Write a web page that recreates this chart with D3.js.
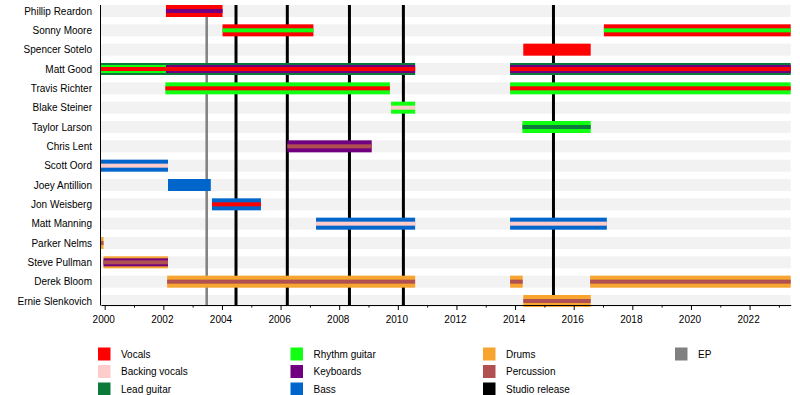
<!DOCTYPE html>
<html>
<head>
<meta charset="utf-8">
<script src="https://cdnjs.cloudflare.com/ajax/libs/d3/7.8.5/d3.min.js"></script>
<style>
  body { margin: 0; background: #fff; }
  svg { font-family: "Liberation Sans", Arial, sans-serif; }
</style>
</head>
<body>
<svg width="800" height="395"></svg>
<script>
// members, top to bottom
var members = ["Phillip Reardon", "Sonny Moore", "Spencer Sotelo", "Matt Good", "Travis Richter",
    "Blake Steiner", "Taylor Larson", "Chris Lent", "Scott Oord", "Joey Antillion", "Jon Weisberg",
    "Matt Manning", "Parker Nelms", "Steve Pullman", "Derek Bloom", "Ernie Slenkovich"]

var roles = ["Vocals", "Backing vocals", "Lead guitar", "Rhythm guitar", "Keyboards", "Bass",
    "Drums", "Percussion", "Studio release", "EP"]
var roleColors = ["#ff0000", "#ffcccc", "#0b7a3b", "#11ff11", "#700080", "#0066cc",
    "#f7a52e", "#b05050", "#000000", "#808080"]

var start = 1999.874, end = 2023.403

// main (wide) bars: [member, from, till, role]
var outerBars = [
    ["Phillip Reardon", 2002.09, 2004.02, "Vocals"],
    ["Sonny Moore", 2004.02, 2007.12, "Vocals"],
    ["Sonny Moore", 2017.03, end, "Vocals"],
    ["Spencer Sotelo", 2014.28, 2016.58, "Vocals"],
    ["Matt Good", start, 2010.59, "Lead guitar"],
    ["Matt Good", 2013.83, end, "Lead guitar"],
    ["Travis Richter", 2002.07, 2009.73, "Rhythm guitar"],
    ["Travis Richter", 2013.83, end, "Rhythm guitar"],
    ["Blake Steiner", 2009.77, 2010.59, "Rhythm guitar"],
    ["Taylor Larson", 2014.25, 2016.58, "Rhythm guitar"],
    ["Chris Lent", 2006.23, 2009.11, "Keyboards"],
    ["Scott Oord", start, 2002.16, "Bass"],
    ["Joey Antillion", 2002.16, 2003.62, "Bass"],
    ["Jon Weisberg", 2003.66, 2005.33, "Bass"],
    ["Matt Manning", 2007.21, 2010.59, "Bass"],
    ["Matt Manning", 2013.83, 2017.13, "Bass"],
    ["Parker Nelms", start, 1999.96, "Drums"],
    ["Steve Pullman", 1999.96, 2002.16, "Drums"],
    ["Derek Bloom", 2002.13, 2010.59, "Drums"],
    ["Derek Bloom", 2013.83, 2014.26, "Drums"],
    ["Derek Bloom", 2016.56, end, "Drums"],
    ["Ernie Slenkovich", 2014.28, 2016.58, "Drums"]
]

// second layer
var middleBars = [
    ["Matt Good", start, 2002.09, "Rhythm guitar"],
    ["Matt Good", 2002.09, 2010.59, "Keyboards"],
    ["Matt Good", 2013.83, end, "Keyboards"],
    ["Steve Pullman", 1999.96, 2002.16, "Keyboards"]
]

// thin stripe in the middle
var innerBars = [
    ["Phillip Reardon", 2002.09, 2004.02, "Keyboards"],
    ["Sonny Moore", 2004.02, 2007.12, "Rhythm guitar"],
    ["Sonny Moore", 2017.03, end, "Rhythm guitar"],
    ["Matt Good", start, 2002.09, "Vocals"],
    ["Matt Good", 2002.09, 2010.59, "Vocals"],
    ["Matt Good", 2013.83, end, "Vocals"],
    ["Travis Richter", 2002.07, 2009.73, "Vocals"],
    ["Travis Richter", 2013.83, end, "Vocals"],
    ["Blake Steiner", 2009.77, 2010.59, "Backing vocals"],
    ["Taylor Larson", 2014.25, 2016.58, "Lead guitar"],
    ["Chris Lent", 2006.23, 2009.11, "Percussion"],
    ["Scott Oord", start, 2002.16, "Backing vocals"],
    ["Jon Weisberg", 2003.66, 2005.33, "Vocals"],
    ["Matt Manning", 2007.21, 2010.59, "Backing vocals"],
    ["Matt Manning", 2013.83, 2017.13, "Backing vocals"],
    ["Parker Nelms", start, 1999.96, "Percussion"],
    ["Steve Pullman", 1999.96, 2002.16, "Percussion"],
    ["Derek Bloom", 2002.13, 2010.59, "Percussion"],
    ["Derek Bloom", 2013.83, 2014.26, "Percussion"],
    ["Derek Bloom", 2016.56, end, "Percussion"],
    ["Ernie Slenkovich", 2014.28, 2016.58, "Percussion"]
]

var studioReleases = [2004.48, 2006.23, 2008.35, 2010.19, 2015.31]
var epReleases = [2003.48]

var tickYears = d3.range(2000, 2024, 1)

var svg = d3.select('svg')
var x = d3.scaleLinear().domain([start, end]).range([101, 790.7])
var y = d3.scalePoint().domain(members).range([11, 301])
var color = d3.scaleOrdinal().domain(roles).range(roleColors)

// grey background stripes
svg.append('g')
    .selectAll('rect')
    .data(members)
    .enter()
    .append('rect')
    .attr('x', x(start))
    .attr('width', x(end) - x(start))
    .attr('y', function(d) { return y(d) - 6 })
    .attr('height', 12)
    .attr('fill', '#f2f2f2')

// release lines, behind the bars
svg.append('g')
    .selectAll('line')
    .data(epReleases)
    .enter()
    .append('line')
    .attr('x1', function(d) { return x(d) })
    .attr('x2', function(d) { return x(d) })
    .attr('y1', 5)
    .attr('y2', 305)
    .attr('stroke', color('EP'))
    .attr('stroke-width', 2.5)

svg.append('g')
    .selectAll('line')
    .data(studioReleases)
    .enter()
    .append('line')
    .attr('x1', function(d) { return x(d) })
    .attr('x2', function(d) { return x(d) })
    .attr('y1', 5)
    .attr('y2', 305)
    .attr('stroke', color('Studio release'))
    .attr('stroke-width', 3)

function drawBars(data, h) {
    svg.append('g')
        .selectAll('rect')
        .data(data)
        .enter()
        .append('rect')
        .attr('x', function(d) { return x(d[1]) })
        .attr('width', function(d) { return x(d[2]) - x(d[1]) })
        .attr('y', function(d) { return y(d[0]) - h / 2 })
        .attr('height', h)
        .attr('fill', function(d) { return color(d[3]) })
}
drawBars(outerBars, 12)
drawBars(middleBars, 8)
drawBars(innerBars, 4)

// member names
svg.append('g')
    .selectAll('text')
    .data(members)
    .enter()
    .append('text')
    .attr('x', 92)
    .attr('y', function(d) { return y(d) })
    .attr('dy', '0.35em')
    .attr('text-anchor', 'end')
    .attr('font-size', 10)
    .attr('fill', '#000')
    .text(function(d) { return d })

// time axis
var axis = d3.axisBottom(x)
    .tickValues(tickYears)
    .tickSize(5)
    .tickSizeOuter(0)
    .tickFormat(function(d) { return d % 2 == 0 ? d : '' })

var gx = svg.append('g')
    .attr('transform', 'translate(0,305)')
    .call(axis)
gx.select('.domain').attr('stroke', '#000')
gx.selectAll('.tick line')
    .attr('stroke', '#000')
    .attr('y2', function(d) { return d % 2 == 0 ? 5 : 2.5 })
gx.selectAll('.tick text')
    .attr('y', 11)
    .attr('dx', -1.5)
    .attr('font-size', 10)
    .attr('font-family', '"Liberation Sans", Arial, sans-serif')
    .attr('fill', '#000')

// left edge line
svg.append('line')
    .attr('x1', 100.5).attr('x2', 100.5)
    .attr('y1', 5).attr('y2', 305.5)
    .attr('stroke', '#000')

// legend, filled column by column
var legendCols = [98, 290.5, 483, 675]
var legendRows = [354, 371.5, 389]

var legend = svg.append('g')
    .selectAll('g')
    .data(roles)
    .enter()
    .append('g')
    .attr('transform', function(d, i) {
        return 'translate(' + legendCols[Math.floor(i / 3)] + ',' + legendRows[i % 3] + ')'
    })

legend.append('rect')
    .attr('x', 0)
    .attr('y', -6.5)
    .attr('width', 12.5)
    .attr('height', 13)
    .attr('fill', function(d) { return color(d) })

legend.append('text')
    .attr('x', 23)
    .attr('dy', '0.35em')
    .attr('font-size', 10)
    .attr('fill', '#000')
    .text(function(d) { return d })
</script>
</body>
</html>
